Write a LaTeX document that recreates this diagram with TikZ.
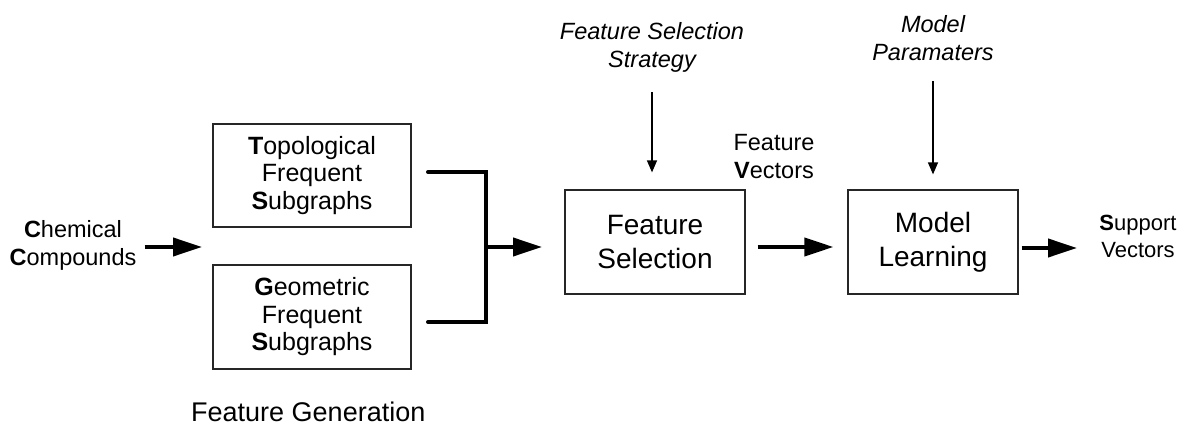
\documentclass[tikz,border=0pt]{standalone}
\usepackage{fontspec}
\setmainfont{Liberation Sans}
\usetikzlibrary{arrows.meta}
\begin{document}
\begin{tikzpicture}[x=1pt,y=-1pt,
  box/.style={draw=black!85, line width=1.2pt, align=center, inner sep=0pt},
  fatarrow/.style={line width=4pt, -{Triangle[length=29pt,width=18pt]}},
  thinarrow/.style={line width=1.3pt, -{Triangle[length=12pt,width=10pt]}},
  bracket/.style={line width=4pt, line cap=round, line join=miter},
  lbl/.style={align=center, inner sep=0pt, font=\fontsize{23.5}{28}\selectfont},
  ilbl/.style={lbl, font=\fontsize{23.5}{28}\selectfont\itshape},
  smallbox/.style={box, font=\fontsize{25}{27.5}\selectfont},
  bigbox/.style={box, font=\fontsize{28}{34}\selectfont},
]
\useasboundingbox (0,0) rectangle (1181,427);

% boxes
\node[smallbox, minimum width=198pt, minimum height=103pt] (topo) at (312,175.5)
  {\textbf{T}opological\\Frequent\\\textbf{S}ubgraphs};
\node[smallbox, minimum width=198pt, minimum height=104pt] (geo) at (312,317)
  {\textbf{G}eometric\\Frequent\\\textbf{S}ubgraphs};
\node[bigbox, minimum width=180pt, minimum height=104pt] (fs) at (655,242)
  {Feature\\Selection};
\node[bigbox, minimum width=170pt, minimum height=104pt] (ml) at (933,242)
  {Model\\Learning};

% labels
\node[lbl] (cc) at (73,245) {\textbf{C}hemical\\\textbf{C}ompounds};
\node[ilbl] (fss) at (652,47) {Feature Selection\\Strategy};
\node[ilbl] (mp) at (933,38) {Model\\Paramaters};
\node[lbl] (fv) at (774,157) {Feature\\\textbf{V}ectors};
\node[lbl, font=\fontsize{22}{27}\selectfont] (sv) at (1138,236) {\textbf{S}upport\\Vectors};
\node[lbl, anchor=base west, font=\fontsize{27}{32}\selectfont] (fg) at (191,422) {Feature Generation};

% coordinates
\coordinate (ccend) at (202,247);
\coordinate (tj) at (428,172);
\coordinate (gj) at (428,322);
\coordinate (j) at (486,247);
\coordinate (jend) at (542,247);
\coordinate (svend) at (1077,248);

% connectors
\draw[fatarrow] (cc.east |- ccend) ++(8,0) -- (ccend);
\draw[bracket] (tj) -| (j) |- (gj);
\draw[fatarrow] (j) -- (jend);
\draw[fatarrow] ([xshift=12pt,yshift=-5pt]fs.east) -- ([xshift=-14pt,yshift=-5pt]ml.west);
\draw[fatarrow] ([xshift=3pt,yshift=-6pt]ml.east) -- (svend);
\draw[thinarrow] (fss.south) ++(0,20) -- ([yshift=17pt]fss.south |- fs.north);
\draw[thinarrow] (mp.south) ++(0,20) -- ([yshift=15pt]mp.south |- ml.north);
\end{tikzpicture}
\end{document}
